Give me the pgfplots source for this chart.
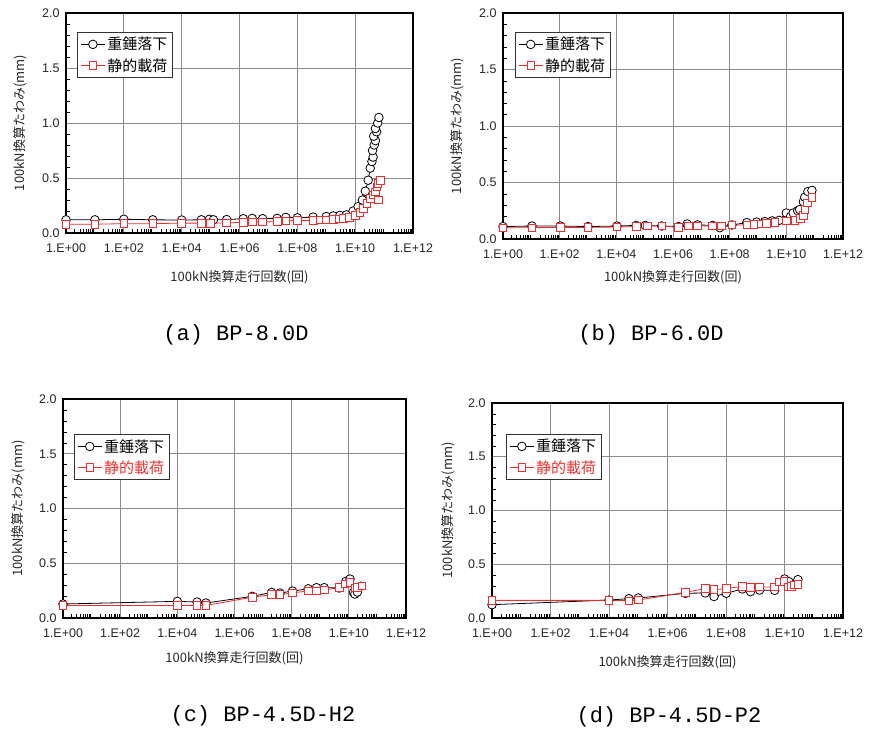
\documentclass[border=0pt]{standalone}
\usepackage{fontspec}
\setmainfont{Liberation Sans}
\newfontfamily\jp{Noto Sans CJK JP}
\newfontfamily\capfont{Liberation Mono}
\usepackage{pgfplots}
\pgfplotsset{compat=1.18}
\definecolor{myred}{RGB}{240,45,45}
\tikzset{
  myblk/.style={black, line width=0.8pt, mark=*, mark size=4.3pt, mark options={fill=white, draw=black, line width=0.8pt}},
  myrd/.style={myred, line width=0.8pt, mark=square*, mark size=3.8pt, mark options={fill=white, draw=myred, line width=0.8pt}},
}
\pgfplotsset{
    xmin=1, xmax=1e12, ymin=0, ymax=2,
    scale only axis,
    xtick={1,1e2,1e4,1e6,1e8,1e10,1e12},
    xticklabels={1.E+00,1.E+02,1.E+04,1.E+06,1.E+08,1.E+10,1.E+12},
    ytick={0,0.5,1,1.5,2}, yticklabels={0.0,0.5,1.0,1.5,2.0},
    minor ytick={0.1,0.2,0.3,0.4,0.6,0.7,0.8,0.9,1.1,1.2,1.3,1.4,1.6,1.7,1.8,1.9},
    minor xtick={2,3,4,5,6,7,8,9,20,30,40,50,60,70,80,90,200,300,400,500,600,700,800,900,
      2e3,3e3,4e3,5e3,6e3,7e3,8e3,9e3,2e4,3e4,4e4,5e4,6e4,7e4,8e4,9e4,
      2e5,3e5,4e5,5e5,6e5,7e5,8e5,9e5,2e6,3e6,4e6,5e6,6e6,7e6,8e6,9e6,
      2e7,3e7,4e7,5e7,6e7,7e7,8e7,9e7,2e8,3e8,4e8,5e8,6e8,7e8,8e8,9e8,
      2e9,3e9,4e9,5e9,6e9,7e9,8e9,9e9,2e10,3e10,4e10,5e10,6e10,7e10,8e10,9e10,
      2e11,3e11,4e11,5e11,6e11,7e11,8e11,9e11},
    grid=major, major grid style={black!45, line width=0.7pt},
    tick align=inside, tick pos=left,
    major tick length=0pt, minor tick length=4pt,
    axis line style={line width=1.1pt},
    minor tick style={black, line width=0.5pt},
    tick label style={font=\fontsize{12.5}{14}\selectfont, text=black!85},
    xticklabel style={yshift=-7pt},
    yticklabel style={xshift=-3pt},
    xlabel={\jp 100kN換算走行回数(回)},
    ylabel={\jp 100kN換算たわみ(mm)},
    label style={font=\fontsize{13}{15}\selectfont, text=black!85},
    legend style={draw=black!80, line width=0.8pt, font=\jp\fontsize{15}{17}\selectfont,
      inner xsep=3pt, inner ysep=3pt, row sep=3pt, cells={anchor=west}},
    legend image code/.code={\draw[mark repeat=2,mark phase=2,#1] plot coordinates {(0pt,0pt) (12pt,0pt) (24pt,0pt)};},
}
\begin{document}
\begin{tikzpicture}[x=1pt,y=1pt]
\path[use as bounding box] (0,0) rectangle (874,-736);
% (a)
\begin{axis}[xmode=log, at={(66pt,-233pt)}, anchor=south west, width=347pt, height=220pt,
  legend style={at={(0.032,0.914)}, anchor=north west},
  xlabel style={at={(axis description cs:0.5,0)}, anchor=center, yshift=-44pt},
  ylabel style={at={([xshift=-46pt]axis description cs:0,0.5)}, anchor=center}]
\addplot[myblk] coordinates {
(1,0.12) (10,0.12) (100,0.125) (1000,0.12) (1e4,0.118) (4.8e4,0.12) (9.1e4,0.125) (1.26e5,0.12)
(3.6e5,0.122) (1.35e6,0.13) (2.75e6,0.133) (6.3e6,0.13) (2.0e7,0.133) (4.0e7,0.142) (1.0e8,0.138)
(3.5e8,0.145) (1.0e9,0.15) (1.74e9,0.155) (2.95e9,0.16) (5.0e9,0.165) (8.5e9,0.20) (1.26e10,0.24)
(1.78e10,0.30) (2.24e10,0.38) (2.82e10,0.48) (3.31e10,0.59) (3.80e10,0.65) (4.17e10,0.69)
(3.98e10,0.75) (4.57e10,0.80) (5.01e10,0.84) (4.37e10,0.88) (5.50e10,0.92) (5.01e10,0.95)
(6.03e10,1.00) (6.61e10,1.05)};
\addlegendentry{重錘落下}
\addplot[myrd] coordinates {
(1,0.08) (10,0.08) (100,0.085) (1000,0.085) (1e4,0.09) (4.8e4,0.09) (1e5,0.09) (3.6e5,0.092)
(1.35e6,0.097) (2.75e6,0.10) (6.3e6,0.10) (2.0e7,0.103) (4.0e7,0.11) (1.0e8,0.115) (3.55e8,0.115)
(6.31e8,0.118) (1.0e9,0.12) (1.78e9,0.125) (2.82e9,0.13) (3.98e9,0.135) (6.31e9,0.14) (1.0e10,0.16)
(1.48e10,0.19) (1.95e10,0.225) (2.51e10,0.27) (3.31e10,0.315) (4.07e10,0.345) (4.90e10,0.375)
(6.46e10,0.30) (5.62e10,0.42) (6.03e10,0.45) (7.41e10,0.48)};
\addlegendentry{静的載荷}
\end{axis}
% (b)
\begin{axis}[xmode=log, at={(503pt,-239pt)}, anchor=south west, width=340pt, height=226pt,
  legend style={at={(0.035,0.916)}, anchor=north west},
  xlabel style={at={(axis description cs:0.5,0)}, anchor=center, yshift=-38pt},
  ylabel style={at={([xshift=-46pt]axis description cs:0,0.5)}, anchor=center}]
\addplot[myblk] coordinates {
(1,0.11) (10.5,0.115) (105,0.115) (1000,0.11) (1.05e4,0.115) (5.0e4,0.12) (1.05e5,0.12) (4.0e5,0.115)
(1.58e6,0.11) (3.16e6,0.133) (7.4e6,0.125) (2.5e7,0.12) (4.5e7,0.10) (1.2e8,0.124) (4.0e8,0.145)
(8.9e8,0.15) (1.74e9,0.155) (3.16e9,0.16) (5.6e9,0.165) (1.0e10,0.23) (1.41e10,0.20) (1.74e10,0.23)
(2.51e10,0.25) (2.95e10,0.26) (3.98e10,0.33) (4.47e10,0.37) (5.75e10,0.42) (8.0e10,0.43)};
\addlegendentry{重錘落下}
\addplot[myrd] coordinates {
(1,0.10) (10.5,0.10) (105,0.103) (1000,0.103) (1.05e4,0.106) (5.0e4,0.11) (1.26e5,0.115) (4.0e5,0.115)
(1.58e6,0.103) (3.55e6,0.115) (7.4e6,0.115) (2.5e7,0.115) (5.0e7,0.115) (1.2e8,0.124) (4.0e8,0.124)
(7.1e8,0.13) (1.26e9,0.135) (2.0e9,0.14) (4.0e9,0.145) (1.0e10,0.16) (2.0e10,0.165) (3.16e10,0.18)
(3.98e10,0.21) (4.47e10,0.26) (5.62e10,0.32) (7.94e10,0.37)};
\addlegendentry{静的載荷}
\end{axis}
% (c)
\begin{axis}[xmode=log, at={(63pt,-618pt)}, anchor=south west, width=343pt, height=219pt,
  legend style={at={(0.032,0.84)}, anchor=north west},
  xlabel style={at={(axis description cs:0.5,0)}, anchor=center, yshift=-40pt},
  ylabel style={at={([xshift=-45pt]axis description cs:0,0.5)}, anchor=center}]
\addplot[myblk] coordinates {
(1,0.128) (1e4,0.152) (4.9e4,0.146) (1e5,0.137) (4.2e6,0.198) (2.0e7,0.234) (3.9e7,0.228)
(1.07e8,0.246) (3.8e8,0.267) (7.4e8,0.277) (1.38e9,0.277) (4.6e9,0.274) (7.9e9,0.334)
(1.1e10,0.356) (1.45e10,0.234) (1.62e10,0.219) (2.0e10,0.237) (2.6e10,0.29)};
\addlegendentry{重錘落下}
\addplot[myrd] coordinates {
(1,0.115) (1e4,0.115) (4.9e4,0.115) (1e5,0.115) (4.2e6,0.19) (2.0e7,0.213) (3.9e7,0.213)
(1.07e8,0.228) (3.8e8,0.249) (7.4e8,0.249) (1.38e9,0.255) (4.6e9,0.28) (7.2e9,0.313)
(1.1e10,0.325) (1.62e10,0.274) (2.0e10,0.28) (2.82e10,0.295)};
\addlegendentry{\textcolor{myred}{静的載荷}}
\end{axis}
% (d)
\begin{axis}[xmode=log, at={(492pt,-618pt)}, anchor=south west, width=351pt, height=215pt,
  legend style={at={(0.04,0.856)}, anchor=north west},
  xlabel style={at={(axis description cs:0.5,0)}, anchor=center, yshift=-44pt},
  ylabel style={at={([xshift=-44pt]axis description cs:0,0.5)}, anchor=center}]
\addplot[myblk] coordinates {
(1,0.124) (1e4,0.167) (4.8e4,0.18) (1e5,0.186) (4.1e6,0.23) (1.95e7,0.233) (3.9e7,0.2)
(1.02e8,0.23) (3.6e8,0.27) (6.9e8,0.245) (1.41e9,0.26) (4.6e9,0.257) (1.0e10,0.363)
(1.41e10,0.338) (1.86e10,0.295) (2.29e10,0.31) (2.88e10,0.357)};
\addlegendentry{重錘落下}
\addplot[myrd] coordinates {
(1,0.164) (1e4,0.164) (4.8e4,0.161) (1e5,0.167) (4.1e6,0.239) (1.95e7,0.273) (3.9e7,0.264)
(1.02e8,0.273) (3.6e8,0.295) (6.9e8,0.285) (1.41e9,0.288) (4.6e9,0.288) (6.6e9,0.335)
(9.5e9,0.338) (1.35e10,0.288) (1.74e10,0.295) (2.14e10,0.307) (2.88e10,0.31)};
\addlegendentry{\textcolor{myred}{静的載荷}}
\end{axis}
% captions
\node[font=\capfont\fontsize{22}{24}\selectfont] at (236,-335) {(a) BP-8.0D};
\node[font=\capfont\fontsize{22}{24}\selectfont] at (651,-335) {(b) BP-6.0D};
\node[font=\capfont\fontsize{22}{24}\selectfont] at (263,-716) {(c) BP-4.5D-H2};
\node[font=\capfont\fontsize{22}{24}\selectfont] at (669,-717) {(d) BP-4.5D-P2};
\end{tikzpicture}
\end{document}
